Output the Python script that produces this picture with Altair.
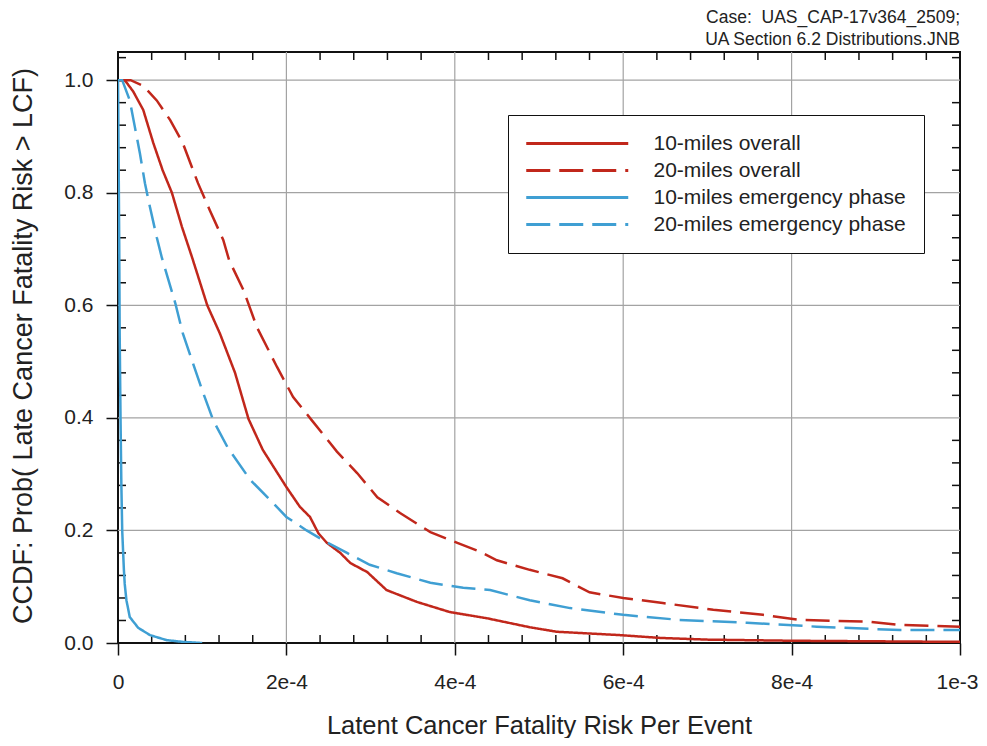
import altair as alt
import pandas as pd

FONT = "Liberation Sans"

# ---- series definitions ----
SERIES = ["10-miles overall", "20-miles overall",
          "10-miles emergency phase", "20-miles emergency phase"]
COLORS = ["#C1271B", "#C1271B", "#3F9FD3", "#3F9FD3"]
DASHES = [[1, 0], [24, 9], [1, 0], [24, 9]]

# x values in units of 1e-4, y = CCDF probability
x_10_overall = [0, 0.08, 0.18, 0.30, 0.42, 0.53, 0.64, 0.76, 0.88, 1.06, 1.21, 1.39,
                1.55, 1.72, 2.00, 2.16, 2.28, 2.38, 2.48, 2.64, 2.76, 2.96, 3.19, 3.55,
                3.94, 4.38, 4.89, 5.21, 5.96, 6.44, 7.0, 8.0, 9.0, 10.0]
y_10_overall = [1.0, 1.0, 0.98, 0.947, 0.888, 0.840, 0.800, 0.739, 0.685, 0.600, 0.550, 0.480,
                0.398, 0.343, 0.277, 0.242, 0.224, 0.195, 0.178, 0.160, 0.142, 0.126, 0.094, 0.073,
                0.055, 0.044, 0.028, 0.020, 0.014, 0.009, 0.006, 0.004, 0.003, 0.002]

x_20_overall = [0, 0.15, 0.30, 0.46, 0.62, 0.77, 0.95, 1.09, 1.25, 1.32, 1.49, 1.65, 1.89,
                2.08, 2.30, 2.60, 2.84, 3.08, 3.35, 3.71, 4.03, 4.30, 4.50, 4.89, 5.28, 5.60,
                6.00, 6.47, 7.07, 7.66, 8.10, 8.90, 9.29, 10.0]
y_20_overall = [1.0, 1.0, 0.99, 0.964, 0.929, 0.888, 0.817, 0.769, 0.716, 0.68, 0.627, 0.561, 0.490,
                0.437, 0.396, 0.340, 0.302, 0.259, 0.231, 0.197, 0.178, 0.162, 0.147, 0.130, 0.115, 0.090,
                0.080, 0.071, 0.059, 0.050, 0.041, 0.038, 0.032, 0.029]

x_10_emerg = [0, 0.003, 0.008, 0.015, 0.02, 0.03, 0.04, 0.05, 0.07, 0.08, 0.10, 0.14,
              0.24, 0.38, 0.58, 0.77, 1.0]
y_10_emerg = [1.0, 0.95, 0.85, 0.70, 0.55, 0.40, 0.28, 0.20, 0.13, 0.105, 0.076, 0.046,
              0.027, 0.014, 0.005, 0.002, 0.0]

x_20_emerg = [0, 0.05, 0.14, 0.20, 0.26, 0.32, 0.38, 0.46, 0.52, 0.68, 0.77, 0.89, 1.00,
              1.13, 1.30, 1.57, 1.84, 2.00, 2.24, 2.48, 2.72, 2.99, 3.31, 3.71, 4.10, 4.42,
              4.89, 5.37, 6.00, 6.67, 7.47, 8.30, 9.29, 10.0]
y_20_emerg = [1.0, 1.0, 0.964, 0.917, 0.870, 0.817, 0.774, 0.721, 0.685, 0.604, 0.550, 0.497, 0.449,
              0.396, 0.348, 0.290, 0.249, 0.224, 0.200, 0.179, 0.160, 0.139, 0.124, 0.107, 0.098, 0.094,
              0.076, 0.062, 0.050, 0.041, 0.036, 0.029, 0.023, 0.023]

# ---- axis ticks ----
X_TICKS = [0, 0.0002, 0.0004, 0.0006, 0.0008, 0.001]
X_TICK_LABELS = ["0", "2e-4", "4e-4", "6e-4", "8e-4", "1e-3"]
X_GRID = [0.0002, 0.0004, 0.0006, 0.0008]
X_MINOR = [0.00004, 0.00008, 0.00012, 0.00016, 0.00024, 0.00028, 0.00032, 0.00036,
           0.00044, 0.00048, 0.00052, 0.00056, 0.00064, 0.00068, 0.00072, 0.00076,
           0.00084, 0.00088, 0.00092, 0.00096]
Y_TICKS = [0, 0.2, 0.4, 0.6, 0.8, 1.0]
Y_GRID = [0.2, 0.4, 0.6, 0.8, 1.0]
Y_MINOR = [0.04, 0.08, 0.12, 0.16, 0.24, 0.28, 0.32, 0.36, 0.44, 0.48, 0.52, 0.56,
           0.64, 0.68, 0.72, 0.76, 0.84, 0.88, 0.92, 0.96, 1.04]

HEADER = ["Case:\u00a0 UAS_CAP-17v364_2509;", "UA Section 6.2 Distributions.JNB"]

# ---- build data ----
rows = []
for name, xs, ys in zip(SERIES,
                        [x_10_overall, x_20_overall, x_10_emerg, x_20_emerg],
                        [y_10_overall, y_20_overall, y_10_emerg, y_20_emerg]):
    for i, (xv, yv) in enumerate(zip(xs, ys)):
        rows.append({"series": name, "x": xv * 1e-4, "y": yv, "i": i})
df = pd.DataFrame(rows)

W, H = 842, 591

label_expr = ""
for v, lab in zip(X_TICKS[1:], X_TICK_LABELS[1:]):
    label_expr += f"datum.value == {v!r} ? '{lab}' : "
label_expr += f"'{X_TICK_LABELS[0]}'"

xscale = alt.Scale(domain=[0, 0.001], nice=False, zero=False)
yscale = alt.Scale(domain=[0, 1.05], nice=False, zero=False)

xaxis = alt.Axis(values=X_TICKS, labelExpr=label_expr, grid=False, domain=False,
                 tickSize=12, tickWidth=1.5, tickColor="#111",
                 labelFontSize=21, labelFont=FONT, labelColor="#222", labelPadding=16,
                 labelFlush=False, labelOverlap=False,
                 labelOffset={"condition": {"test": f"datum.value == {X_TICKS[-1]!r}", "value": -3},
                              "value": 0},
                 title="Latent Cancer Fatality Risk Per Event", titleFontSize=25.5,
                 titleFont=FONT, titleFontWeight="normal", titleColor="#222",
                 titleX=W / 2, titleY=90, titleBaseline="alphabetic", titleAlign="center")
yaxis = alt.Axis(values=Y_TICKS, format=".1f", grid=False, domain=False,
                 tickSize=12, tickWidth=1.5, tickColor="#111",
                 labelFontSize=21, labelFont=FONT, labelColor="#222", labelPadding=13,
                 labelOverlap=False,
                 title="CCDF: Prob( Late Cancer Fatality Risk > LCF)", titleFontSize=27,
                 titleFont=FONT, titleFontWeight="normal", titleColor="#222",
                 titleX=-95, titleY=H / 2 - 2, titleAngle=270,
                 titleBaseline="middle", titleAlign="center")

X = lambda: alt.X("x:Q", scale=xscale, axis=xaxis)
Y = lambda: alt.Y("y:Q", scale=yscale, axis=yaxis)

xg = pd.DataFrame({"x": X_GRID})
yg = pd.DataFrame({"y": Y_GRID})
xm = pd.DataFrame({"x": X_MINOR})
ym = pd.DataFrame({"y": Y_MINOR})

grid_x = alt.Chart(xg).mark_rule(color="#A3A3A3", strokeWidth=1.2).encode(
    x=X(), y=alt.value(0), y2=alt.value(H))
grid_y = alt.Chart(yg).mark_rule(color="#A3A3A3", strokeWidth=1.2).encode(
    y=Y(), x=alt.value(0), x2=alt.value(W))

tick_style = dict(color="#111", strokeWidth=1.5)
t_bottom = alt.Chart(xm).mark_rule(**tick_style).encode(x=X(), y=alt.value(H), y2=alt.value(H - 8))
t_top = alt.Chart(xm).mark_rule(**tick_style).encode(x=X(), y=alt.value(0), y2=alt.value(8))
t_left = alt.Chart(ym).mark_rule(**tick_style).encode(y=Y(), x=alt.value(0), x2=alt.value(8))
t_right = alt.Chart(ym).mark_rule(**tick_style).encode(y=Y(), x=alt.value(W), x2=alt.value(W - 8))

legend = alt.Legend(title=None, orient="none", legendX=390, legendY=63,
                    symbolType="M-1.206,0H10.794", symbolSize=289, symbolStrokeWidth=3,
                    labelFontSize=21, labelFont=FONT, labelColor="#222",
                    labelOffset=106.5, labelLimit=500, padding=18, rowPadding=5,
                    strokeColor="#111", fillColor="white")

lines = alt.Chart(df).mark_line(strokeWidth=2.5, clip=True).encode(
    x=X(), y=Y(),
    color=alt.Color("series:N", scale=alt.Scale(domain=SERIES, range=COLORS), legend=legend),
    strokeDash=alt.StrokeDash("series:N", scale=alt.Scale(domain=SERIES, range=DASHES), legend=legend),
    order="i:Q",
)

chart = alt.layer(grid_x, grid_y, t_bottom, t_top, t_left, t_right, lines).properties(
    width=W, height=H,
    title=alt.TitleParams(text=HEADER, anchor="end", frame="group", fontSize=17.5,
                          font=FONT, fontWeight="normal", color="#222",
                          lineHeight=22, offset=3),
    autosize=alt.AutoSizeParams(type="none"),
    padding={"left": 110, "top": 44, "right": 19, "bottom": 95},
).configure_view(stroke="#111", strokeWidth=2)

chart.save("out.html", embed_options={"renderer": "svg", "actions": False})
